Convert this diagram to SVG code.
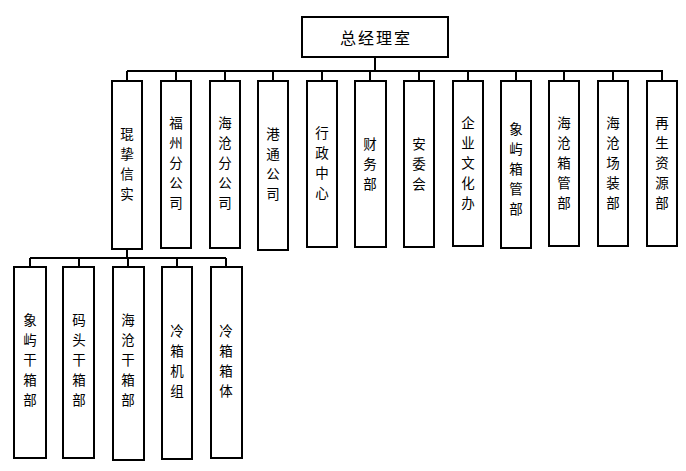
<svg xmlns="http://www.w3.org/2000/svg" width="686" height="471" viewBox="0 0 686 471">
<style>
.box{fill:#fff;stroke:#000;stroke-width:2}
.ln{fill:none;stroke:#000;stroke-width:2}
.t{font-family:"Noto Sans CJK SC","Noto Sans CJK TC",sans-serif;font-size:16px;fill:#000;text-anchor:middle;dominant-baseline:central}
.c{font-family:"Noto Sans CJK SC","Noto Sans CJK TC",sans-serif;font-size:13.5px;fill:#000;text-anchor:middle;dominant-baseline:central}
</style>
<rect width="686" height="471" fill="#fff"/>
<g id="connectors">
<path class="ln" d="M375 57V71M127 71H663"/>
<path class="ln" d="M127 71V81M176 71V81M225 71V81M273 71V81M322 71V81M370 71V81M419 71V81M468 71V81M516 71V81M564 71V81M613 71V81M662 71V81"/>
<path class="ln" d="M127 249V258M30 258H226M30 258V267M79 258V267M128 258V267M177 258V267M226 258V267"/>
</g>
<g id="n0"><rect class="box" x="302" y="17" width="146" height="40"/><text class="t" x="376" y="37" letter-spacing="2">总经理室</text></g>
<g id="n1"><rect class="box" x="112" y="81" width="30" height="168"/><text class="c" x="127"><tspan x="127" y="133">琨</tspan><tspan x="127" y="153">挚</tspan><tspan x="127" y="173">信</tspan><tspan x="127" y="193">实</tspan></text></g>
<g id="n2"><rect class="box" x="161" y="81" width="30" height="167"/><text class="c"><tspan x="176" y="122">福</tspan><tspan x="176" y="142">州</tspan><tspan x="176" y="162">分</tspan><tspan x="176" y="182">公</tspan><tspan x="176" y="202">司</tspan></text></g>
<g id="n3"><rect class="box" x="210" y="81" width="30" height="167"/><text class="c"><tspan x="225" y="122">海</tspan><tspan x="225" y="142">沧</tspan><tspan x="225" y="162">分</tspan><tspan x="225" y="182">公</tspan><tspan x="225" y="202">司</tspan></text></g>
<g id="n4"><rect class="box" x="258" y="81" width="30" height="169"/><text class="c"><tspan x="273" y="133">港</tspan><tspan x="273" y="153">通</tspan><tspan x="273" y="173">公</tspan><tspan x="273" y="193">司</tspan></text></g>
<g id="n5"><rect class="box" x="307" y="81" width="30" height="166"/><text class="c"><tspan x="322" y="132">行</tspan><tspan x="322" y="152">政</tspan><tspan x="322" y="172">中</tspan><tspan x="322" y="192">心</tspan></text></g>
<g id="n6"><rect class="box" x="355" y="81" width="31" height="166"/><text class="c"><tspan x="370" y="143">财</tspan><tspan x="370" y="163">务</tspan><tspan x="370" y="183">部</tspan></text></g>
<g id="n7"><rect class="box" x="404" y="81" width="30" height="166"/><text class="c"><tspan x="419" y="143">安</tspan><tspan x="419" y="163">委</tspan><tspan x="419" y="183">会</tspan></text></g>
<g id="n8"><rect class="box" x="453" y="81" width="30" height="165"/><text class="c"><tspan x="468" y="122">企</tspan><tspan x="468" y="142">业</tspan><tspan x="468" y="162">文</tspan><tspan x="468" y="182">化</tspan><tspan x="468" y="202">办</tspan></text></g>
<g id="n9"><rect class="box" x="501" y="81" width="30" height="167"/><text class="c"><tspan x="516" y="128">象</tspan><tspan x="516" y="148">屿</tspan><tspan x="516" y="168">箱</tspan><tspan x="516" y="188">管</tspan><tspan x="516" y="208">部</tspan></text></g>
<g id="n10"><rect class="box" x="549" y="81" width="30" height="165"/><text class="c"><tspan x="564" y="122">海</tspan><tspan x="564" y="142">沧</tspan><tspan x="564" y="162">箱</tspan><tspan x="564" y="182">管</tspan><tspan x="564" y="202">部</tspan></text></g>
<g id="n11"><rect class="box" x="598" y="81" width="30" height="165"/><text class="c"><tspan x="613" y="122">海</tspan><tspan x="613" y="142">沧</tspan><tspan x="613" y="162">场</tspan><tspan x="613" y="182">装</tspan><tspan x="613" y="202">部</tspan></text></g>
<g id="n12"><rect class="box" x="647" y="81" width="30" height="165"/><text class="c"><tspan x="662" y="122">再</tspan><tspan x="662" y="142">生</tspan><tspan x="662" y="162">资</tspan><tspan x="662" y="182">源</tspan><tspan x="662" y="202">部</tspan></text></g>
<g id="n13"><rect class="box" x="14" y="267" width="32" height="191"/><text class="c"><tspan x="30" y="319">象</tspan><tspan x="30" y="339">屿</tspan><tspan x="30" y="359">干</tspan><tspan x="30" y="379">箱</tspan><tspan x="30" y="399">部</tspan></text></g>
<g id="n14"><rect class="box" x="63" y="267" width="31" height="191"/><text class="c"><tspan x="79" y="319">码</tspan><tspan x="79" y="339">头</tspan><tspan x="79" y="359">干</tspan><tspan x="79" y="379">箱</tspan><tspan x="79" y="399">部</tspan></text></g>
<g id="n15"><rect class="box" x="113" y="267" width="31" height="193"/><text class="c"><tspan x="128" y="319">海</tspan><tspan x="128" y="339">沧</tspan><tspan x="128" y="359">干</tspan><tspan x="128" y="379">箱</tspan><tspan x="128" y="399">部</tspan></text></g>
<g id="n16"><rect class="box" x="162" y="267" width="30" height="192"/><text class="c"><tspan x="177" y="330">冷</tspan><tspan x="177" y="350">箱</tspan><tspan x="177" y="370">机</tspan><tspan x="177" y="390">组</tspan></text></g>
<g id="n17"><rect class="box" x="211" y="267" width="31" height="191"/><text class="c"><tspan x="226" y="330">冷</tspan><tspan x="226" y="350">箱</tspan><tspan x="226" y="370">箱</tspan><tspan x="226" y="390">体</tspan></text></g>
</svg>
